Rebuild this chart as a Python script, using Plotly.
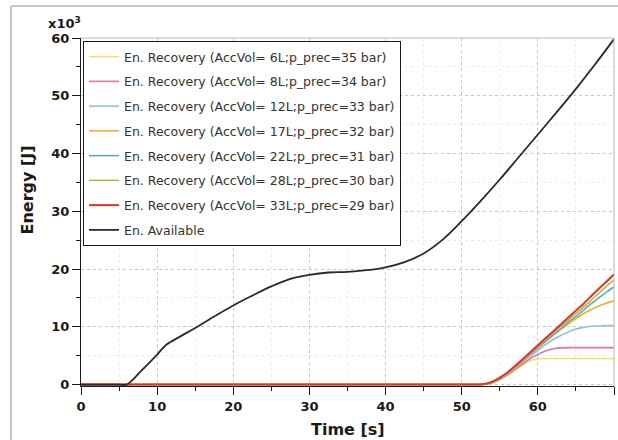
import plotly.graph_objects as go

# ---- data (energy in 10^3 J, as shown on the axis) ----
t_avail = [0, 5, 6, 8, 10, 11.2, 13, 15, 17.5, 20, 22.5, 25, 27.5, 30, 32.5, 35, 37.5, 40,
           42.5, 45, 47.5, 50, 52.5, 55, 57.5, 60, 62.5, 65, 67.5, 70]
e_avail = [0, 0, 0, 2.5, 5.2, 6.9, 8.3, 9.8, 11.8, 13.7, 15.4, 17.0, 18.3, 19.0, 19.4, 19.5,
           19.8, 20.3, 21.2, 22.7, 25.1, 28.3, 31.8, 35.5, 39.4, 43.3, 47.2, 51.2, 55.4, 59.8]

t_rec = [0, 52, 53, 54, 55, 56, 57, 58, 59, 60, 61, 62, 63, 64, 65, 66, 67, 68, 69, 70]
e_6L = [0, 0, 0.05, 0.3, 0.85, 1.6, 2.5, 3.4, 4.1, 4.45, 4.5, 4.5, 4.5, 4.5, 4.5, 4.5, 4.5, 4.5, 4.5, 4.5]
e_8L = [0, 0, 0.05, 0.3, 0.9, 1.7, 2.6, 3.6, 4.5, 5.2, 5.8, 6.2, 6.35, 6.4, 6.4, 6.4, 6.4, 6.4, 6.4, 6.4]
e_12L = [0, 0, 0.05, 0.3, 0.9, 1.8, 2.8, 3.9, 4.9, 5.9, 6.9, 7.8, 8.5, 9.1, 9.6, 9.9, 10.1, 10.15, 10.2, 10.2]
e_17L = [0, 0, 0.05, 0.3, 0.95, 1.85, 2.9, 4.0, 5.2, 6.3, 7.4, 8.5, 9.5, 10.5, 11.4, 12.3, 13.0, 13.6, 14.1, 14.5]
e_22L = [0, 0, 0.05, 0.35, 1.0, 1.9, 3.0, 4.2, 5.3, 6.4, 7.5, 8.6, 9.7, 10.8, 11.8, 12.9, 14.0, 15.0, 16.0, 16.9]
e_28L = [0, 0, 0.05, 0.4, 1.1, 2.0, 3.1, 4.3, 5.5, 6.6, 7.8, 9.0, 10.1, 11.2, 12.3, 13.4, 14.6, 15.8, 17.0, 18.1]
e_33L = [0, 0, 0.1, 0.5, 1.2, 2.1, 3.2, 4.4, 5.6, 6.8, 8.0, 9.2, 10.4, 11.6, 12.8, 14.0, 15.3, 16.6, 17.8, 19.1]

rec_names = [
    "En. Recovery (AccVol= 6L;p_prec=35 bar)",
    "En. Recovery (AccVol= 8L;p_prec=34 bar)",
    "En. Recovery (AccVol= 12L;p_prec=33 bar)",
    "En. Recovery (AccVol= 17L;p_prec=32 bar)",
    "En. Recovery (AccVol= 22L;p_prec=31 bar)",
    "En. Recovery (AccVol= 28L;p_prec=30 bar)",
    "En. Recovery (AccVol= 33L;p_prec=29 bar)",
]
rec_values = [e_6L, e_8L, e_12L, e_17L, e_22L, e_28L, e_33L]
rec_colors = ["#ece07c", "#d878a8", "#8cc4dc", "#f2b02e", "#62aac4", "#a8c038", "#e8302a"]
avail_name = "En. Available"

x_ticks = [0, 10, 20, 30, 40, 50, 60, 70]
y_ticks = [0, 10, 20, 30, 40, 50, 60]

# ---- figure ----
W, H = 618, 440
ML, MR, MT, MB = 81, 4, 38, 54
PW, PH = W - ML - MR, H - MT - MB

def px_x(px):
    return (px - ML) / PW

def px_y(py):
    return (H - MB - py) / PH

fig = go.Figure()
for i, (name, vals, col) in enumerate(zip(rec_names, rec_values, rec_colors)):
    fig.add_trace(go.Scatter(
        x=t_rec, y=vals, mode="lines", name=name, legendgroup=f"g{i}",
        line=dict(color=col, width=2 if i == 6 else 1.6, shape="spline", smoothing=0.6),
    ))
fig.add_trace(go.Scatter(
    x=t_avail, y=e_avail, mode="lines", name=avail_name, legendgroup="gA",
    line=dict(color="#2a2a2a", width=1.8, shape="spline", smoothing=1.0),
))

tickfont = dict(family="DejaVu Sans", size=13, color="#1a1a1a", weight="bold")
axis_common = dict(
    showline=True, linecolor="#1a1a1a", linewidth=1,
    ticks="outside", ticklen=8, tickwidth=1, tickcolor="#1a1a1a",
    tickfont=tickfont, zeroline=False,
    showgrid=True, gridcolor="#c8c8c8", griddash="dot", gridwidth=1,
    minor=dict(ticks="outside", ticklen=4, tickcolor="#1a1a1a", dtick=5,
               showgrid=True, gridcolor="#ececec", griddash="dot"),
)

fig.update_layout(
    width=W, height=H,
    margin=dict(l=ML, r=MR, t=MT, b=MB),
    paper_bgcolor="white", plot_bgcolor="white",
    showlegend=True,
    legend=dict(
        x=px_x(83), y=px_y(41), xanchor="left", yanchor="top",
        bgcolor="white", bordercolor="#1a1a1a", borderwidth=1,
        font=dict(family="DejaVu Sans", size=12.5, color="#333333"),
        tracegroupgap=5.5, traceorder="grouped",
    ),
    xaxis=dict(range=[0, 70], tickvals=x_ticks, **axis_common),
    yaxis=dict(range=[-0.25, 60], tickvals=y_ticks, **axis_common),
    shapes=[
        # plot-area top/right border
        dict(type="line", xref="paper", yref="paper", x0=0, x1=1, y0=1, y1=1,
             line=dict(color="#b8b8b8", width=1)),
        dict(type="line", xref="paper", yref="paper", x0=1, x1=1, y0=0, y1=1,
             line=dict(color="#b8b8b8", width=1)),
        # outer frame
        dict(type="line", xref="paper", yref="paper", x0=px_x(11), x1=px_x(620),
             y0=px_y(6), y1=px_y(6), line=dict(color="#c8c8c8", width=2)),
        dict(type="line", xref="paper", yref="paper", x0=px_x(11), x1=px_x(11),
             y0=px_y(6), y1=px_y(442), line=dict(color="#c8c8c8", width=2)),
    ],
    annotations=[
        dict(text="x10<sup>3</sup>", xref="paper", yref="paper", x=px_x(46), y=px_y(23),
             xanchor="left", yanchor="middle", showarrow=False,
             font=dict(family="DejaVu Sans", size=13, color="#1a1a1a", weight="bold")),
        dict(text="Energy [J]", xref="paper", yref="paper", x=px_x(26.5), y=px_y(190),
             xanchor="center", yanchor="middle", textangle=-90, showarrow=False,
             font=dict(family="DejaVu Sans", size=16, color="#1a1a1a", weight="bold")),
        dict(text="Time [s]", xref="paper", yref="paper", x=px_x(348), y=px_y(429),
             xanchor="center", yanchor="middle", showarrow=False,
             font=dict(family="DejaVu Sans", size=16, color="#1a1a1a", weight="bold")),
    ],
)

fig.write_html("out.html")
